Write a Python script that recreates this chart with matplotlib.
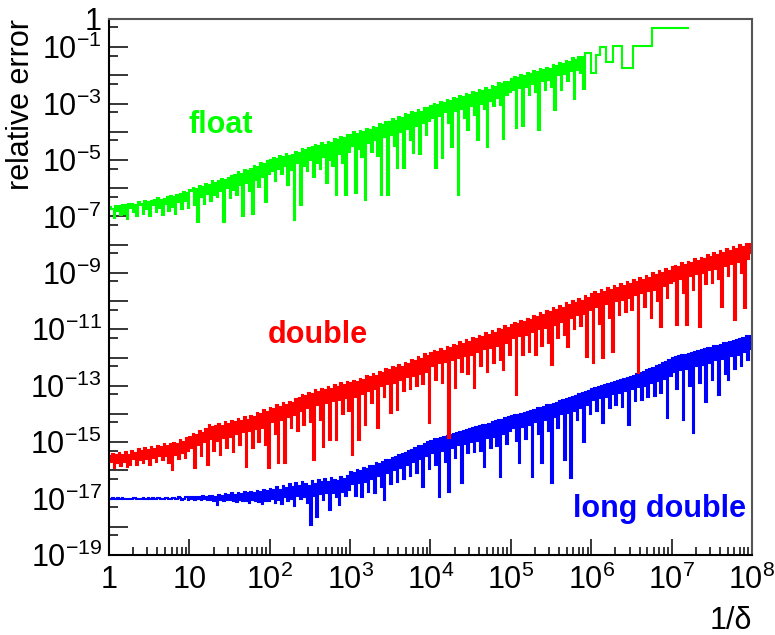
import numpy as np
import matplotlib.pyplot as plt
from matplotlib.ticker import FixedLocator, FuncFormatter, LogLocator, NullFormatter

plt.rcParams['font.family'] = ['Liberation Sans', 'DejaVu Sans']
plt.rcParams['mathtext.fontset'] = 'custom'
plt.rcParams['mathtext.rm'] = 'Liberation Sans'
plt.rcParams['mathtext.it'] = 'Liberation Sans:italic'
plt.rcParams['mathtext.bf'] = 'Liberation Sans:bold'

# --- data: log10(relative error), 50 bins per decade of 1/delta, starting at 1 ---
BINS_PER_DECADE = 50

float_log_err = [
    # 1 .. 10
    -6.68, -6.75, -6.72, -7.05, -6.62, -6.80, -6.64, -6.95, -6.58, -6.90, -6.60, -7.10, -6.56,
    -6.70, -6.55, -6.85, -6.58, -7.00, -6.50, -6.60, -6.55, -6.90, -6.46, -6.75, -6.48, -7.00,
    -6.45, -6.60, -6.42, -6.85, -6.36, -6.70, -6.40, -6.95, -6.38, -6.55, -6.32, -6.80, -6.26,
    -6.65, -6.30, -6.90, -6.25, -6.50, -6.20, -6.75, -6.14, -6.45, -6.16, -6.70,
    # 10 .. 100
    -6.05, -6.10, -6.00, -6.60, -6.04, -7.20, -5.92, -6.30, -5.96, -6.55, -5.85, -6.20, -5.88,
    -6.45, -5.76, -6.25, -5.82, -6.30, -5.75, -6.10, -5.66, -7.20, -5.72, -6.00, -5.62, -6.35,
    -5.56, -6.05, -5.52, -6.25, -5.42, -5.90, -5.48, -7.00, -5.36, -5.80, -5.38, -6.10, -5.30,
    -6.90, -5.22, -5.70, -5.24, -5.95, -5.12, -5.60, -5.14, -6.50, -5.05, -5.50,
    # 1e2 .. 1e3
    -5.00, -5.40, -4.94, -5.75, -4.98, -5.30, -4.86, -5.50, -4.90, -5.20, -4.80, -5.90, -4.84,
    -5.35, -4.82, -7.13, -4.72, -5.10, -4.76, -6.60, -4.62, -5.20, -4.66, -5.40, -4.58, -5.00,
    -4.55, -5.60, -4.46, -5.10, -4.50, -5.30, -4.40, -4.90, -4.45, -5.80, -4.36, -5.00, -4.38,
    -5.20, -4.26, -6.24, -4.30, -4.80, -4.18, -5.10, -4.22, -6.24, -4.12, -4.70,
    # 1e3 .. 1e4
    -4.10, -4.50, -4.02, -6.17, -4.06, -4.60, -3.96, -4.90, -4.00, -6.42, -3.90, -4.40, -3.92,
    -4.70, -3.82, -4.30, -3.86, -4.85, -3.72, -6.24, -3.76, -4.20, -3.64, -6.24, -3.66, -4.10,
    -3.55, -4.50, -3.60, -5.28, -3.46, -4.00, -3.50, -5.28, -3.38, -3.90, -3.42, -4.30, -3.30,
    -4.75, -3.34, -3.80, -3.22, -4.80, -3.28, -3.70, -3.14, -4.10, -3.16, -3.60,
    # 1e4 .. 1e5
    -3.08, -3.50, -3.00, -5.28, -3.04, -3.45, -2.94, -4.93, -2.98, -3.30, -2.86, -3.70, -2.90,
    -4.54, -2.80, -3.25, -2.84, -6.24, -2.74, -3.20, -2.78, -3.50, -2.66, -3.94, -2.70, -3.10,
    -2.58, -3.40, -2.62, -4.29, -2.52, -3.00, -2.56, -3.20, -2.44, -4.54, -2.50, -2.90, -2.38,
    -3.10, -2.42, -2.80, -2.28, -3.05, -2.32, -4.26, -2.22, -2.70, -2.24, -2.60,
    # 1e5 .. 8.3e5
    -2.12, -2.50, -2.04, -3.87, -2.08, -2.45, -1.98, -3.80, -2.02, -2.40, -1.92, -2.70, -1.96,
    -2.30, -1.84, -2.60, -1.88, -3.94, -1.78, -2.20, -1.82, -2.50, -1.72, -2.15, -1.76, -2.40,
    -1.62, -3.23, -1.68, -2.00, -1.56, -2.52, -1.60, -1.95, -1.48, -2.20, -1.52, -1.85, -1.40,
    -2.84, -1.44, -1.80, -1.34, -1.90, -1.36, -2.48,
]
# beyond 1/delta ~ 8e5 the float result moves in coarse steps (edges in log10)
float_tail_edges = [5.92, 5.995, 6.057, 6.107, 6.18, 6.27, 6.38, 6.52, 6.75, 7.21]
float_tail_log_err = [-1.21, -1.91, -1.28, -0.99, -1.52, -0.96, -1.74, -0.96, -0.32]

double_log_err = [
    # 1 .. 10
    -15.50, -15.70, -15.42, -15.90, -15.46, -15.75, -15.38, -15.85, -15.44, -15.70, -15.36, -15.88,
    -15.45, -15.80, -15.30, -15.60, -15.38, -15.82, -15.26, -15.65, -15.32, -15.75, -15.22, -15.60,
    -15.28, -15.80, -15.18, -15.55, -15.24, -15.70, -15.12, -15.50, -15.18, -15.65, -15.06, -15.50,
    -15.14, -15.75, -15.08, -15.99, -15.02, -15.45, -15.06, -15.60, -14.94, -15.40, -15.00, -15.55,
    -14.85, -15.30,
    # 10 .. 100
    -14.80, -15.20, -14.72, -15.92, -14.76, -15.10, -14.62, -15.50, -14.66, -15.00, -14.52, -15.82,
    -14.38, -14.90, -14.48, -15.30, -14.44, -14.95, -14.36, -15.45, -14.42, -14.85, -14.30, -15.20,
    -14.34, -14.80, -14.24, -15.35, -14.30, -14.70, -14.18, -15.10, -14.24, -14.65, -14.12, -15.89,
    -14.20, -14.60, -14.06, -15.20, -14.10, -14.55, -13.96, -15.00, -14.00, -14.50, -13.86, -15.10,
    -13.92, -15.92,
    # 1e2 .. 1e3
    -13.78, -14.30, -13.82, -14.70, -13.68, -15.74, -13.74, -14.20, -13.62, -15.74, -13.68, -14.10,
    -13.56, -14.50, -13.60, -14.05, -13.46, -14.60, -13.42, -13.90, -13.32, -14.40, -13.36, -13.80,
    -13.26, -14.30, -13.30, -15.64, -13.16, -13.70, -13.22, -14.20, -13.10, -15.18, -13.14, -13.60,
    -13.04, -14.93, -13.10, -13.55, -12.98, -14.93, -13.04, -13.50, -12.92, -14.00, -12.98, -13.45,
    -12.88, -13.90,
    # 1e3 .. 1e4
    -12.90, -15.46, -12.82, -13.40, -12.86, -14.93, -12.76, -13.30, -12.80, -14.40, -12.66, -13.20,
    -12.70, -13.60, -12.58, -13.10, -12.64, -14.50, -12.50, -13.00, -12.56, -13.40, -12.42, -12.95,
    -12.46, -13.97, -12.32, -12.90, -12.38, -13.87, -12.26, -12.80, -12.32, -13.20, -12.18, -12.70,
    -12.24, -13.10, -12.08, -12.65, -12.14, -13.00, -11.98, -12.60, -12.04, -12.95, -11.88, -12.50,
    -11.94, -14.33,
    # 1e4 .. 1e5
    -11.85, -12.30, -11.78, -12.80, -11.82, -12.20, -11.70, -12.90, -11.76, -12.15, -11.62, -14.86,
    -11.68, -12.10, -11.54, -13.09, -11.60, -12.00, -11.46, -12.50, -11.52, -11.95, -11.38, -12.60,
    -11.44, -11.90, -11.30, -13.09, -11.36, -11.80, -11.22, -12.30, -11.28, -11.70, -11.14, -12.52,
    -11.20, -11.65, -11.06, -12.20, -11.12, -11.60, -10.98, -12.10, -11.04, -12.45, -10.90, -11.50,
    -10.96, -11.90,
    # 1e5 .. 1e6
    -10.85, -11.30, -10.76, -13.33, -10.82, -11.25, -10.70, -11.90, -10.74, -11.20, -10.62, -11.80,
    -10.66, -11.10, -10.52, -11.91, -10.58, -11.00, -10.42, -11.60, -10.48, -10.95, -10.34, -11.50,
    -10.40, -12.27, -10.26, -10.85, -10.32, -11.30, -10.16, -10.75, -10.24, -11.20, -10.08, -11.63,
    -10.14, -10.60, -10.00, -11.00, -10.06, -10.50, -9.92, -10.90, -9.98, -10.45, -9.82, -11.99,
    -9.88, -10.30,
    # 1e6 .. 1e7
    -9.75, -12.20, -9.68, -10.20, -9.74, -10.80, -9.62, -12.02, -9.66, -10.10, -9.54, -10.60,
    -9.60, -11.81, -9.46, -10.00, -9.52, -10.50, -9.40, -9.95, -9.46, -10.40, -9.34, -9.90,
    -9.40, -10.30, -9.26, -9.80, -9.32, -12.55, -9.18, -9.70, -9.24, -10.20, -9.12, -9.65,
    -9.18, -10.60, -9.02, -9.60, -9.08, -10.00, -8.94, -10.92, -9.00, -9.45, -8.86, -9.90,
    -8.92, -9.35,
    # 1e7 .. 1e8
    -8.80, -9.30, -8.74, -10.85, -8.78, -9.20, -8.66, -9.70, -8.72, -10.85, -8.60, -9.10,
    -8.66, -9.60, -8.52, -9.05, -8.58, -10.92, -8.46, -9.00, -8.52, -9.40, -8.38, -8.90,
    -8.44, -9.35, -8.30, -8.85, -8.36, -9.20, -8.24, -10.21, -8.30, -8.75, -8.16, -9.10,
    -8.22, -8.70, -8.08, -10.67, -8.14, -8.60, -8.02, -9.00, -8.08, -10.25, -7.96, -8.50,
    -7.98, -8.30,
]

long_double_log_err = [
    # 1 .. 10
    -17.00, -17.00, -16.99, -17.00, -17.00, -16.99, -17.00, -17.00, -16.99, -17.01, -17.00, -17.00,
    -17.01, -17.00, -17.00, -16.99, -16.99, -17.00, -17.00, -17.01, -17.00, -16.99, -17.01, -17.00,
    -16.99, -17.01, -17.00, -16.98, -17.00, -17.02, -16.99, -16.98, -17.01, -17.02, -17.00, -16.98,
    -16.99, -17.03, -17.01, -16.97, -16.98, -17.03, -17.02, -16.96, -16.97, -17.04, -17.02, -16.95,
    -16.96, -17.05,
    # 10 .. 100
    -16.95, -17.00, -16.96, -17.04, -16.93, -17.02, -16.94, -17.05, -16.92, -17.03, -16.95, -17.06,
    -16.90, -17.05, -16.92, -17.08, -16.95, -17.23, -16.88, -17.06, -16.90, -17.10, -16.85, -17.04,
    -16.88, -17.05, -16.82, -17.08, -16.86, -17.12, -16.80, -17.05, -16.84, -17.08, -16.78, -17.10,
    -16.82, -17.15, -16.75, -17.06, -16.80, -17.10, -16.72, -17.12, -16.78, -17.18, -16.70, -17.08,
    -16.72, -17.10,
    # 1e2 .. 1e3
    -16.65, -17.00, -16.70, -17.15, -16.60, -17.05, -16.68, -17.20, -16.55, -16.95, -16.62, -17.10,
    -16.50, -17.00, -16.60, -17.25, -16.45, -16.90, -16.55, -17.00, -16.42, -16.95, -16.50, -17.15,
    -16.55, -17.94, -16.38, -16.90, -16.48, -17.66, -16.35, -16.85, -16.42, -17.05, -16.30, -16.80,
    -16.40, -17.41, -16.28, -16.80, -16.35, -16.95, -16.38, -17.23, -16.25, -16.75, -16.30, -16.90,
    -16.20, -16.70,
    # 1e3 .. 1e4
    -16.05, -16.50, -16.10, -16.90, -16.00, -16.45, -16.02, -16.95, -15.90, -16.40, -15.95, -16.75,
    -15.85, -16.30, -15.85, -16.80, -15.75, -16.20, -15.78, -16.60, -15.72, -17.06, -15.65, -16.10,
    -15.62, -16.50, -15.55, -16.00, -15.52, -16.40, -15.45, -15.90, -15.42, -16.30, -15.38, -15.80,
    -15.32, -16.20, -15.28, -15.70, -15.22, -16.10, -15.15, -15.60, -15.12, -16.60, -15.05, -15.50,
    -15.00, -15.95,
    # 1e4 .. 1e5
    -14.95, -15.40, -14.90, -15.80, -14.88, -16.95, -14.85, -15.30, -14.80, -15.70, -14.78, -16.77,
    -14.75, -15.20, -14.70, -15.55, -14.68, -15.10, -14.65, -16.45, -14.60, -15.05, -14.58, -15.40,
    -14.55, -15.00, -14.50, -15.35, -14.45, -14.95, -14.42, -15.30, -14.40, -15.89, -14.38, -14.85,
    -14.35, -15.20, -14.30, -14.80, -14.25, -15.15, -14.22, -16.24, -14.20, -14.70, -14.15, -15.05,
    -14.12, -14.60,
    # 1e5 .. 1e6
    -14.08, -14.50, -14.05, -14.95, -14.02, -15.74, -14.00, -14.45, -13.95, -14.90, -13.92, -14.40,
    -13.90, -16.24, -13.85, -14.30, -13.80, -14.70, -13.78, -15.74, -13.75, -14.20, -13.70, -14.60,
    -13.68, -16.45, -13.65, -14.10, -13.60, -14.50, -13.55, -14.00, -13.52, -15.64, -13.48, -13.95,
    -13.45, -16.28, -13.40, -13.90, -13.35, -14.20, -13.30, -13.80, -13.25, -15.00, -13.22, -13.70,
    -13.18, -14.00,
    # 1e6 .. 1e7
    -13.12, -13.50, -13.08, -13.90, -13.05, -13.45, -13.00, -14.33, -12.98, -13.40, -12.95, -13.80,
    -12.90, -13.30, -12.88, -13.70, -12.85, -13.25, -12.80, -13.75, -12.75, -13.20, -12.72, -14.40,
    -12.68, -13.10, -12.65, -13.55, -12.60, -13.05, -12.55, -13.50, -12.50, -13.00, -12.45, -13.40,
    -12.42, -12.90, -12.38, -13.35, -12.30, -12.85, -12.25, -13.25, -12.20, -12.75, -12.15, -14.15,
    -12.10, -12.65,
    # 1e7 .. 1e8
    -12.00, -12.50, -11.98, -13.10, -11.95, -12.45, -11.92, -14.22, -11.90, -12.40, -11.86, -13.00,
    -11.84, -14.68, -11.82, -12.30, -11.78, -12.90, -11.75, -12.25, -11.70, -13.58, -11.68, -12.20,
    -11.65, -12.80, -11.60, -12.10, -11.58, -13.33, -11.55, -12.05, -11.50, -12.60, -11.48, -12.80,
    -11.45, -11.95, -11.40, -12.40, -11.38, -11.90, -11.35, -12.30, -11.30, -11.80, -11.25, -12.10,
    -11.22, -11.70,
]

fig = plt.figure(figsize=(7.75, 6.35), dpi=100)
ax = fig.add_axes([0.1406, 0.126, 0.8297, 0.8441])
ax.set_xscale('log')
ax.set_yscale('log')

LW = 1.5


def draw_steps(log_edges, log_vals, color):
    # bin outline as a polyline: value held from each left edge to the next
    xs = 10 ** np.asarray(log_edges)
    ys = 10 ** np.append(log_vals, log_vals[-1])
    ax.plot(xs, ys, drawstyle='steps-post', color=color, lw=LW, solid_joinstyle='miter')


f_edges = np.concatenate([np.arange(len(float_log_err)) / BINS_PER_DECADE, float_tail_edges])
draw_steps(f_edges, float_log_err + float_tail_log_err, '#00ff00')
draw_steps(np.arange(len(long_double_log_err) + 1) / BINS_PER_DECADE, long_double_log_err, '#0000ff')
draw_steps(np.arange(len(double_log_err) + 1) / BINS_PER_DECADE, double_log_err, '#ff0000')

ax.set_xlim(1, 1e8)
ax.set_ylim(1e-19, 1)


def pow_label(v, pos=None):
    e = int(round(np.log10(v)))
    if e == 0:
        return '1'
    if e == 1:
        return '10'
    return r'$\mathregular{10^{%d}}$' % e


ax.xaxis.set_major_locator(FixedLocator([10.0 ** k for k in range(0, 9)]))
ax.xaxis.set_minor_locator(LogLocator(base=10, subs=np.arange(2, 10), numticks=20))
ax.xaxis.set_major_formatter(FuncFormatter(pow_label))
ax.xaxis.set_minor_formatter(NullFormatter())

# every decade ticked, only 1 and odd powers labelled (as ROOT does)
ax.yaxis.set_major_locator(FixedLocator([10.0 ** k for k in range(-19, 1)]))
ax.yaxis.set_minor_locator(FixedLocator([5 * 10.0 ** k for k in range(-20, 0)]))
ax.yaxis.set_major_formatter(FuncFormatter(
    lambda v, p: pow_label(v) if (int(round(np.log10(v))) % 2 != 0 or v == 1) else ''))
ax.yaxis.set_minor_formatter(NullFormatter())

ax.tick_params(which='both', direction='in', top=False, right=False, width=1.1,
               labelsize=22, colors='black')
ax.tick_params(axis='y', which='major', length=13.7, pad=5)
ax.tick_params(axis='y', which='minor', length=6.5)
ax.tick_params(axis='x', which='major', length=11.5, pad=7)
ax.tick_params(axis='x', which='minor', length=5.8)

for sp in ['left', 'bottom']:
    ax.spines[sp].set_linewidth(1.5)
    ax.spines[sp].set_color('black')
for sp in ['top', 'right']:
    ax.spines[sp].set_linewidth(1.5)
    ax.spines[sp].set_color('#555555')

ax.set_ylabel('relative error', fontsize=22, loc='top')
ax.yaxis.set_label_coords(-0.113, 1.0)
ax.set_xlabel('1/\u03b4', fontsize=22, loc='right')
ax.xaxis.set_label_coords(1.0, -0.095)

ax.text(9.9, 10 ** -4.05, 'float', color='#00ff00', fontsize=22, fontweight='bold', va='baseline')
ax.text(95, 10 ** -11.5, 'double', color='#ff0000', fontsize=22, fontweight='bold', va='baseline')
ax.text(5.9e5, 10 ** -17.66, 'long double', color='#0000ff', fontsize=22, fontweight='bold',
        va='baseline')

fig.savefig('out.png', dpi=100)
